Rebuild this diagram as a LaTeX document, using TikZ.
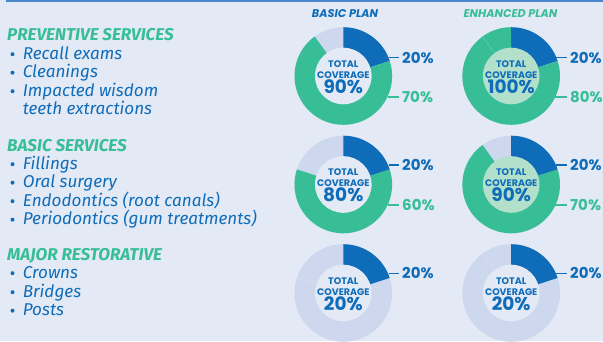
\documentclass[tikz,border=0pt]{standalone}
\usepackage{fontspec}
\setmainfont{Fira Sans}
\newfontfamily\pop{Poppins}
\definecolor{bgC}{HTML}{E4EAF5}
\definecolor{blueC}{HTML}{0E6CB8}
\definecolor{greenC}{HTML}{37BE97}
\definecolor{lightC}{HTML}{CDD8EE}
\definecolor{ingreenC}{HTML}{B2E0CB}
\definecolor{topC}{HTML}{4A88C9}
\tikzset{
  heading/.style={anchor=base west, inner sep=0pt, text=greenC, font=\fontsize{17.1}{18}\selectfont\bfseries\itshape},
  item/.style={anchor=base west, inner sep=0pt, text=blueC, font=\fontsize{17.1}{18}\selectfont\itshape},
  plantitle/.style={anchor=base, inner sep=0pt, font=\pop\fontsize{11.2}{12}\selectfont\bfseries\itshape},
  small/.style={anchor=base, inner sep=0pt, text=blueC, font=\pop\fontsize{9.5}{11}\selectfont\bfseries},
  big/.style={anchor=base, inner sep=0pt, text=blueC, font=\pop\fontsize{18.5}{20}\selectfont\bfseries},
  pct/.style={anchor=west, inner sep=0pt, text height=11pt, text depth=0pt, font=\pop\fontsize{15}{18}\selectfont\bfseries},
  leader/.style={line width=1.5pt},
  dot/.style={circle, fill=blueC, inner sep=0pt, minimum size=4pt}
}
\newcommand\mydonut[5]{% #1 name, #2 cx, #3 cy, #4 green end angle (or none), #5 inner fill
  \coordinate (#1) at (#2,#3);
  \fill[lightC] (#1) circle[radius=48.8pt];
  \fill[blueC] (#1) -- ++(90:48.8pt) arc[start angle=90,end angle=18,radius=48.8pt] -- cycle;
  \ifx\relax#4\relax\else
  \fill[greenC] (#1) -- ++(18:48.8pt) arc[start angle=18,end angle=#4-360,radius=48.8pt] -- cycle;
  \fi
  \fill[#5] (#1) circle[radius=28.3pt];
}
\begin{document}
\begin{tikzpicture}[x=1pt,y=1pt]
\fill[bgC] (0,0) rectangle (603,341);
\useasboundingbox (0,0) rectangle (603,341);
\fill[topC] (6,339) rectangle (603,341);

% plan titles
\node[plantitle, text=blueC] (t1) at (345,323.7) {BASIC PLAN};
\node[plantitle, text=greenC] (t2) at (510.5,323.7) {ENHANCED PLAN};

% left column
\node[heading] (h1) at (7,300) {PREVENTIVE SERVICES};
\foreach \y/\t [count=\i] in {282/Recall exams, 263.5/Cleanings, 245/Impacted wisdom} {
  \node[dot] (da\i) at (12.5,\y+4.8) {};
  \node[item] (ia\i) at (22.7,\y) {\t};
}
\node[item] (ia4) at (22.7,226.5) {teeth extractions};

\node[heading] (h2) at (7,190) {BASIC SERVICES};
\foreach \y/\t [count=\i] in {172/Fillings, 153.5/Oral surgery, 135/Endodontics (root canals), 116.5/Periodontics (gum treatments)} {
  \node[dot] (db\i) at (12.5,\y+4.8) {};
  \node[item] (ib\i) at (22.7,\y) {\t};
}

\node[heading] (h3) at (7,81) {MAJOR RESTORATIVE};
\foreach \y/\t [count=\i] in {63/Crowns, 44/Bridges, 25.5/Posts} {
  \node[dot] (dc\i) at (12.5,\y+4.8) {};
  \node[item] (ic\i) at (22.7,\y) {\t};
}

% donuts
\mydonut{c11}{343.3}{265}{126}{bgC}
\mydonut{c12}{511.2}{265}{90}{ingreenC}
\draw[ingreenC!40!greenC, line width=0.6pt] (c12) ++(126:28.3pt) -- ++(126:20.5pt);
\mydonut{c21}{343.3}{156.5}{162}{bgC}
\mydonut{c22}{511.2}{156.5}{126}{ingreenC}
\mydonut{c31}{343.3}{48}{}{bgC}
\mydonut{c32}{511.2}{48}{}{bgC}
\draw[bgC!50!lightC, line width=0.6pt] (c31) ++(162:28.3pt) -- ++(162:20.5pt);
\draw[bgC!50!lightC, line width=0.6pt] (c32) ++(126:28.3pt) -- ++(126:20.5pt);

% inner texts
\foreach \c/\p in {c11/90\%, c12/100\%, c21/80\%, c22/90\%, c31/20\%, c32/20\%} {
  \node[small] (\c a) at ([yshift=9pt]\c) {TOTAL};
  \node[small] (\c b) at ([yshift=-2pt]\c) {COVERAGE};
  \node[big] (\c c) at ([yshift=-17pt]\c) {\p};
}

% outer labels
\foreach \c/\x/\lx in {c11/388.5/402, c12/556.4/570} {
  \node[pct, text=blueC] (\c u) at (\lx,283.5) {20\%};
  \coordinate (\c U) at (\x,283.5);
  \draw[leader, blueC] (\c U) -- ([xshift=-3.5pt]\c u.west);
}
\node[pct, text=greenC] (c11d) at (402,244) {70\%};
\coordinate (c11D) at (387.5,244);
\draw[leader, greenC] (c11D) -- ([xshift=-3.5pt]c11d.west);
\node[pct, text=greenC] (c12d) at (570,244) {80\%};
\coordinate (c12D) at (555.4,244);
\draw[leader, greenC] (c12D) -- ([xshift=-3.5pt]c12d.west);

\foreach \c/\x/\lx in {c21/388.5/402, c22/556.4/570} {
  \node[pct, text=blueC] (\c u) at (\lx,176) {20\%};
  \coordinate (\c U) at (\x,176);
  \draw[leader, blueC] (\c U) -- ([xshift=-3.5pt]\c u.west);
}
\node[pct, text=greenC] (c21d) at (402,136) {60\%};
\coordinate (c21D) at (387.5,136);
\draw[leader, greenC] (c21D) -- ([xshift=-3.5pt]c21d.west);
\node[pct, text=greenC] (c22d) at (570,136) {70\%};
\coordinate (c22D) at (555.4,136);
\draw[leader, greenC] (c22D) -- ([xshift=-3.5pt]c22d.west);

\foreach \c/\x/\lx in {c31/388.5/402, c32/556.4/570} {
  \node[pct, text=blueC] (\c u) at (\lx,67.7) {20\%};
  \coordinate (\c U) at (\x,67.7);
  \draw[leader, blueC] (\c U) -- ([xshift=-3.5pt]\c u.west);
}
\end{tikzpicture}
\end{document}
